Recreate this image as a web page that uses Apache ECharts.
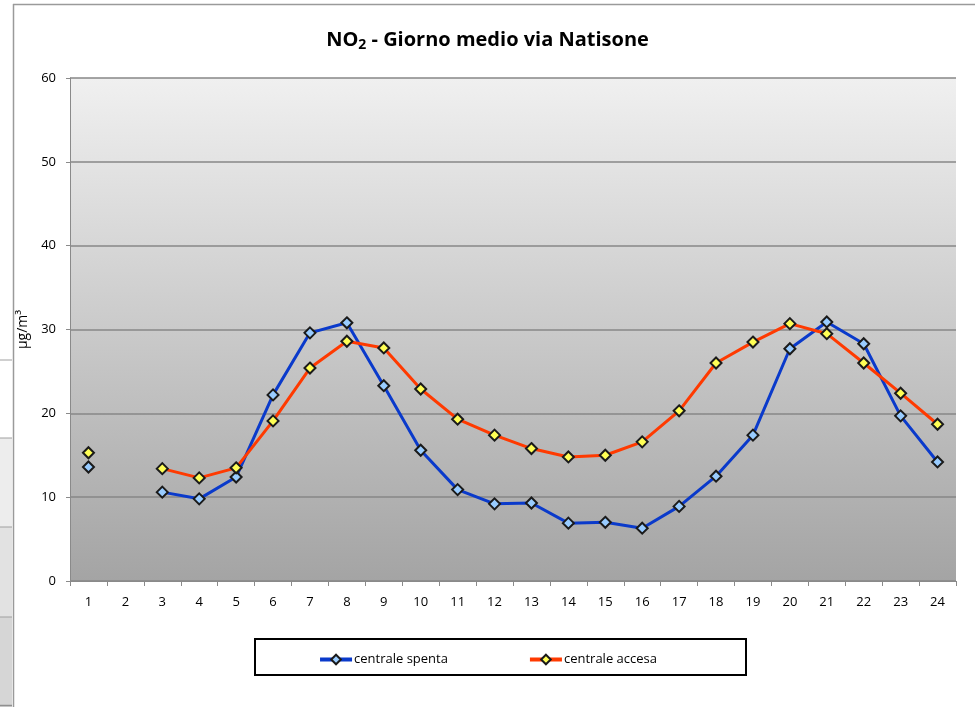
<!DOCTYPE html>
<html>
<head>
<meta charset="utf-8">
<script src="https://cdn.jsdelivr.net/npm/echarts@6/dist/echarts.min.js"></script>
<style>
html,body{margin:0;padding:0;background:#fff;}
#c{width:975px;height:707px;}
</style>
</head>
<body>
<div id="c"></div>
<script>
const hours = ['1','2','3','4','5','6','7','8','9','10','11','12','13','14','15','16','17','18','19','20','21','22','23','24'];
const centraleSpenta = [13.6, null, 10.6, 9.8, 12.4, 22.2, 29.6, 30.8, 23.3, 15.6, 10.9, 9.2, 9.3, 6.9, 7.0, 6.3, 8.9, 12.5, 17.4, 27.7, 30.9, 28.3, 19.7, 14.2];
const centraleAccesa = [15.3, null, 13.4, 12.3, 13.5, 19.1, 25.4, 28.6, 27.8, 22.9, 19.3, 17.4, 15.8, 14.8, 15.0, 16.6, 20.3, 26.0, 28.5, 30.7, 29.5, 26.0, 22.4, 18.7];
const seriesNames = ['centrale spenta', 'centrale accesa'];

const FONT = '"Open Sans", "Noto Sans", sans-serif';
const chart = echarts.init(document.getElementById('c'));

chart.setOption({
  backgroundColor: '#ffffff',
  animation: false,
  textStyle: { fontFamily: FONT },
  graphic: [
    // spreadsheet cells at far left
    { type: 'rect', silent: true, z: -10, shape: { x: 0, y: 438, width: 12, height: 89 }, style: { fill: '#ededed' } },
    { type: 'rect', silent: true, z: -10, shape: { x: 0, y: 527, width: 12, height: 90 }, style: { fill: '#e2e2e2' } },
    { type: 'rect', silent: true, z: -10, shape: { x: 0, y: 617, width: 12, height: 90 }, style: { fill: '#d6d6d6' } },
    { type: 'line', silent: true, shape: { x1: 0, y1: 360, x2: 12, y2: 360 }, style: { stroke: '#a0a0a0', lineWidth: 1 } },
    { type: 'line', silent: true, shape: { x1: 0, y1: 438, x2: 12, y2: 438 }, style: { stroke: '#a0a0a0', lineWidth: 1 } },
    { type: 'line', silent: true, shape: { x1: 0, y1: 527, x2: 12, y2: 527 }, style: { stroke: '#a0a0a0', lineWidth: 1 } },
    { type: 'line', silent: true, shape: { x1: 0, y1: 617, x2: 12, y2: 617 }, style: { stroke: '#a0a0a0', lineWidth: 1 } },
    { type: 'line', silent: true, shape: { x1: 0, y1: 705.5, x2: 12, y2: 705.5 }, style: { stroke: '#909090', lineWidth: 1.5 } },
    // chart frame
    { type: 'line', silent: true, shape: { x1: 13.5, y1: 4, x2: 13.5, y2: 707 }, style: { stroke: '#9a9a9a', lineWidth: 1.5 } },
    { type: 'line', silent: true, shape: { x1: 13, y1: 4.5, x2: 975, y2: 4.5 }, style: { stroke: '#9a9a9a', lineWidth: 1.5 } },
    // legend box
    { type: 'rect', silent: true, shape: { x: 255, y: 639, width: 491, height: 36 }, style: { fill: '#ffffff', stroke: '#000000', lineWidth: 2 } }
  ],
  title: {
    text: '{a|NO}{s|2}{a| - Giorno medio via Natisone}',
    left: 'center',
    top: 23,
    textStyle: {
      rich: {
        a: { fontFamily: FONT, fontWeight: 'bold', fontSize: 20, color: '#000' },
        s: { fontFamily: FONT, fontWeight: 'bold', fontSize: 14, color: '#000', padding: [10, 0, 0, 0] }
      }
    }
  },
  legend: {
    data: seriesNames,
    left: 'center',
    top: 648,
    itemGap: 80,
    itemWidth: 32,
    itemHeight: 12,
    lineStyle: { width: 4 },
    textStyle: { fontFamily: FONT, fontSize: 13, color: '#000', padding: [0, 0, 0, -3] }
  },
  grid: {
    left: 70, top: 78, right: 19, bottom: 126,
    show: true,
    borderWidth: 0,
    backgroundColor: new echarts.graphic.LinearGradient(0, 0, 0, 1, [
      { offset: 0, color: '#f0f0f0' },
      { offset: 1, color: '#a4a4a4' }
    ])
  },
  xAxis: {
    type: 'category',
    data: hours,
    boundaryGap: true,
    axisLine: { lineStyle: { color: '#8a8a8a', width: 1 } },
    axisTick: { show: true, interval: 0, length: 5, lineStyle: { color: '#8a8a8a' } },
    axisLabel: { interval: 0, color: '#000', fontSize: 13, fontFamily: FONT, margin: 15 },
    splitLine: { show: false }
  },
  yAxis: {
    type: 'value',
    min: 0, max: 60, interval: 10,
    name: 'μg/m³',
    nameLocation: 'middle',
    nameGap: 40,
    nameRotate: 90,
    nameTextStyle: { color: '#000', fontSize: 14, fontFamily: FONT },
    axisLine: { show: true, lineStyle: { color: '#8a8a8a', width: 1 } },
    axisTick: { show: true, length: 4, lineStyle: { color: '#8a8a8a' } },
    axisLabel: { color: '#000', fontSize: 13, fontFamily: FONT, margin: 14 },
    splitLine: { show: true, lineStyle: { color: '#878787', width: 1.5 } }
  },
  series: [
    {
      name: seriesNames[0],
      type: 'line',
      data: centraleSpenta,
      connectNulls: false,
      symbol: 'diamond',
      symbolSize: 11,
      lineStyle: { color: '#0a3acb', width: 3 },
      itemStyle: { color: '#99ccff', borderColor: '#1a1a1a', borderWidth: 2 },
      z: 3
    },
    {
      name: seriesNames[1],
      type: 'line',
      data: centraleAccesa,
      connectNulls: false,
      symbol: 'diamond',
      symbolSize: 11,
      lineStyle: { color: '#ff3a00', width: 3 },
      itemStyle: { color: '#ffff55', borderColor: '#1a1a1a', borderWidth: 2 },
      z: 4
    }
  ]
});
</script>
</body>
</html>
